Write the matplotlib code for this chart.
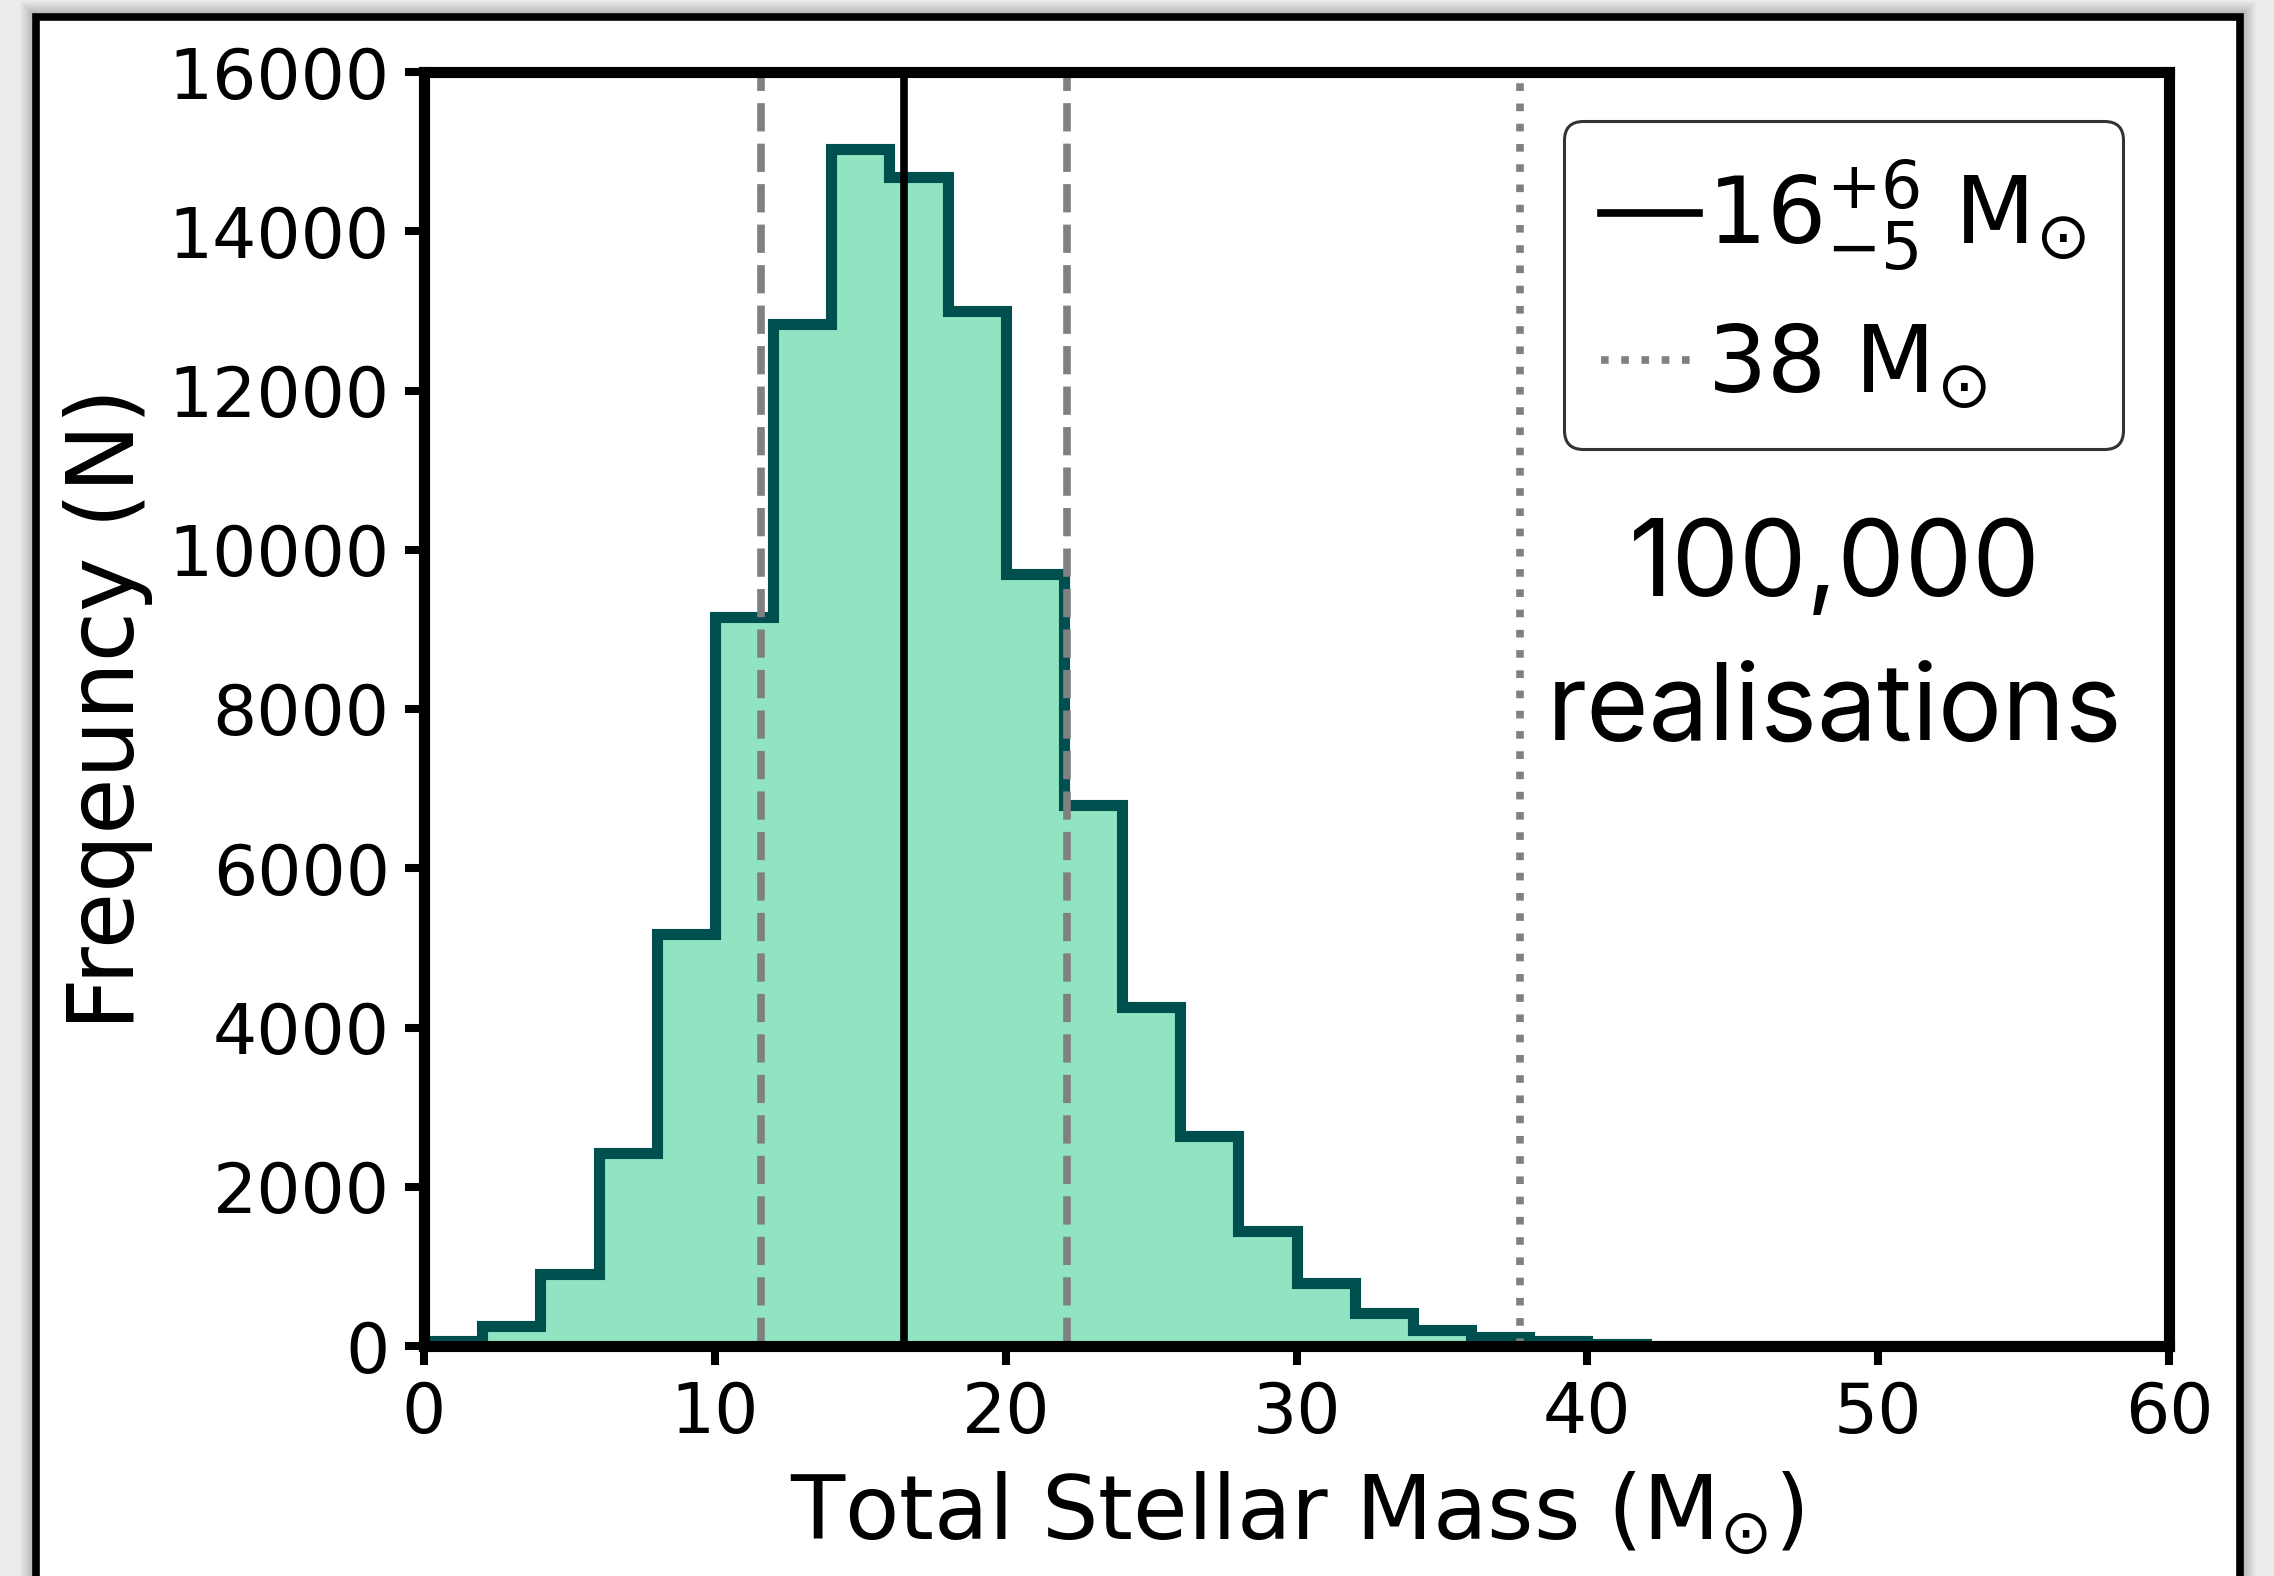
import matplotlib.pyplot as plt
import numpy as np
from matplotlib.patches import Rectangle

W, H = 2274, 1576  # output size in pixels (dpi 100)

# histogram of total stellar mass, 2 Msun bins from 0 to 60
bin_edges = np.arange(0, 62, 2)
counts = [60, 245, 905, 2430, 5170, 9150, 12840, 15030, 14680, 13000,
          9700, 6800, 4260, 2640, 1450, 790, 410, 200, 107, 60,
          20, 0, 0, 0, 0, 0, 0, 0, 0, 0]

median = 16.5
lower = 11.6
upper = 22.1
observed = 37.7

median_label = r'$16^{+6}_{-5}$ M$_{\odot}$'
observed_label = r'38 M$_{\odot}$'
note = '100,000\nrealisations'

fill_colour = '#91e4c2'
edge_colour = '#004f4f'

fig = plt.figure(figsize=(W / 100, H / 100), dpi=100, facecolor='#ececec')

# window frame with a soft shadow round it
fl, fr, ft, fb = 36, 2240, 17, 1650
for i in range(16, 0, -1):
    fig.patches.append(Rectangle(((fl - i) / W, 1 - (fb + i) / H),
                                 (fr - fl + 2 * i) / W, (fb - ft + 2 * i) / H,
                                 transform=fig.transFigure, facecolor='black',
                                 alpha=0.014, lw=0, zorder=-2))
fig.patches.append(Rectangle((fl / W, 1 - fb / H), (fr - fl) / W, (fb - ft) / H,
                             transform=fig.transFigure, facecolor='white',
                             edgecolor='black', lw=5.5, zorder=-1))

ax = fig.add_axes([424 / W, 1 - 1346 / H, (2169 - 424) / W, (1346 - 72) / H])

ax.stairs(counts, bin_edges, fill=True, color=fill_colour, lw=0)
ax.stairs(counts, bin_edges, color=edge_colour, lw=8)

ax.axvline(lower, color='grey', ls='--', lw=5.5)
ax.axvline(upper, color='grey', ls='--', lw=5.5)
ax.axvline(median, color='black', lw=5.5, label=median_label)
ax.axvline(observed, color='grey', ls=':', lw=5.5, label=observed_label)

ax.set_xlim(0, 60)
ax.set_ylim(0, 16000)
ax.set_xticks(np.arange(0, 61, 10))
ax.set_yticks(np.arange(0, 16001, 2000))

for s in ax.spines.values():
    s.set_linewidth(8)
ax.tick_params(labelsize=50, length=13.7, width=5.8, pad=11)

ax.set_xlabel(r'Total Stellar Mass (M$_{\odot}$)', fontsize=64, labelpad=17)
ax.set_ylabel('Freqeuncy (N)', fontsize=66, labelpad=11)

leg = ax.legend(loc='upper right', bbox_to_anchor=(0.9736, 0.9616),
                borderaxespad=0, fontsize=67, handlelength=1.05,
                handletextpad=0.08, borderpad=0.4, labelspacing=0.5,
                framealpha=1, edgecolor='#333333')
leg.get_frame().set_linewidth(2.2)

ax.text(0.8086, 0.5545, note, transform=ax.transAxes, ha='center',
        va='center', fontsize=77, family='Inter', linespacing=1.56)

fig.savefig('out.png', dpi=100, facecolor=fig.get_facecolor())
